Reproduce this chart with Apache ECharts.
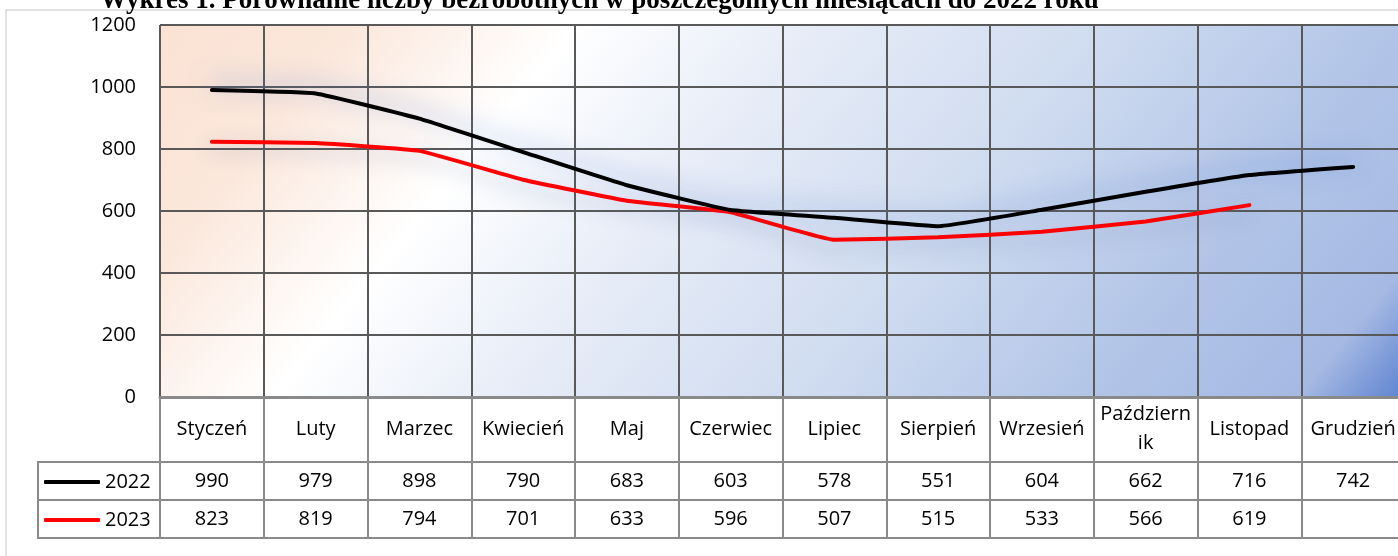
<!DOCTYPE html>
<html><head><meta charset="utf-8">
<script src="https://cdn.jsdelivr.net/npm/echarts@6/dist/echarts.min.js"></script>
<style>html,body{margin:0;padding:0;background:#fff;overflow:hidden;width:1398px;height:556px}#c{width:1412px;height:556px}</style>
</head><body><div id="c"></div>
<script>
const titleText = 'Wykres 1. Porównanie liczby bezrobotnych w poszczególnych miesiącach do 2022 roku';
const categories = ['Styczeń','Luty','Marzec','Kwiecień','Maj','Czerwiec','Lipiec','Sierpień','Wrzesień','Październik','Listopad','Grudzień'];
const seriesNames = ['2022','2023'];
const values2022 = [990,979,898,790,683,603,578,551,604,662,716,742];
const values2023 = [823,819,794,701,633,596,507,515,533,566,619,null];
const yTicks = {min:0, max:1200, interval:200};

const FONT = 'Open Sans';
const gridColor = '#595959';
const tableColor = '#8a8a8a';

const chart = echarts.init(document.getElementById('c'));
const bg = new echarts.graphic.LinearGradient(0,0,1,2.76,[
  {offset:0, color:'#fbe2d3'},
  {offset:0.09, color:'#fbe7db'},
  {offset:0.2, color:'#ffffff'},
  {offset:0.3, color:'#e9eef8'},
  {offset:0.45, color:'#d0dcf0'},
  {offset:0.595, color:'#b1c4e7'},
  {offset:0.69, color:'#a6b9e3'},
  {offset:0.742, color:'#5c82d0'},
  {offset:1, color:'#5c82d0'}
]);
const labelBase = {fontFamily:FONT, fontSize:20, color:'#000'};
// wrap long month names the way the table cell does (cell fits ~9 characters)
const wrapCell = v => v.length > 10 ? v.slice(0, 9) + '\n' + v.slice(9) : v;
function tableAxis(data, offset, len, margin){
  return {
    type:'category', position:'bottom', offset:offset, data:data, boundaryGap:true,
    axisLine:{show:true, lineStyle:{color:tableColor, width:2}},
    axisTick:{show:len>0, length:len, interval:0, lineStyle:{color:tableColor, width:2}},
    axisLabel:Object.assign({show:len>0, interval:0, margin:margin, verticalAlign:'middle'}, labelBase),
    splitLine:{show:false}
  };
}
const option = {
  animation:false,
  title:{text:titleText, left:95, top:-17, textStyle:{fontFamily:'Liberation Serif', fontWeight:'bold', fontSize:27, color:'#000'}},
  graphic:[
    {type:'rect', z:-10, shape:{x:6, y:10, width:1420, height:580}, style:{fill:'#fff', stroke:'#d9d9d9', lineWidth:1.5}},
    {type:'line', shape:{x1:38, y1:462, x2:160, y2:462}, style:{stroke:tableColor, lineWidth:2}},
    {type:'line', shape:{x1:38, y1:500, x2:160, y2:500}, style:{stroke:tableColor, lineWidth:2}},
    {type:'line', shape:{x1:38, y1:538, x2:160, y2:538}, style:{stroke:tableColor, lineWidth:2}},
    {type:'line', shape:{x1:38, y1:461, x2:38, y2:539}, style:{stroke:tableColor, lineWidth:2}}
  ],
  legend:[
    {data:[{name:seriesNames[0], icon:'roundRect'}], left:39, top:467, itemWidth:56, itemHeight:4, textStyle:labelBase},
    {data:[{name:seriesNames[1], icon:'roundRect'}], left:39, top:505, itemWidth:56, itemHeight:4, textStyle:labelBase}
  ],
  grid:{left:160, top:25, right:7, bottom:159, show:true, backgroundColor:bg, borderWidth:0},
  xAxis:[
    {
      type:'category', position:'bottom', data:categories, boundaryGap:true,
      axisLine:{show:true, lineStyle:{color:tableColor, width:3}},
      axisTick:{show:true, length:65, interval:0, lineStyle:{color:tableColor, width:2}},
      axisLabel:Object.assign({interval:0, margin:32, verticalAlign:'middle', lineHeight:29, align:'center', formatter:wrapCell}, labelBase),
      splitLine:{show:true, interval:0, lineStyle:{color:gridColor, width:2}}
    },
    tableAxis(values2022.map(v=>v==null?'':String(v)), 65, 38, 19),
    tableAxis(values2023.map(v=>v==null?'':String(v)), 103, 38, 19),
    tableAxis(categories.map(()=>''), 141, 0, 0)
  ],
  yAxis:{
    type:'value', min:yTicks.min, max:yTicks.max, interval:yTicks.interval,
    axisLine:{show:false}, axisTick:{show:false},
    axisLabel:Object.assign({margin:24, formatter:v=>String(v)}, labelBase),
    splitLine:{show:true, lineStyle:{color:gridColor, width:2}}
  },
  series:[
    {name:seriesNames[0], type:'line', data:values2022, xAxisIndex:0, symbol:'none', smooth:0.1, z:4,
     itemStyle:{color:'#000'},
     lineStyle:{color:'#000', width:4, cap:'round', shadowColor:'rgba(75,120,205,0.7)', shadowBlur:24, shadowOffsetY:-6}},
    {name:seriesNames[1], type:'line', data:values2023, xAxisIndex:0, symbol:'none', smooth:0.1, z:3,
     itemStyle:{color:'#ff0000'},
     lineStyle:{color:'#ff0000', width:4, cap:'round', shadowColor:'rgba(90,110,165,0.45)', shadowBlur:20, shadowOffsetY:7}}
  ]
};
chart.setOption(option);
</script></body></html>
